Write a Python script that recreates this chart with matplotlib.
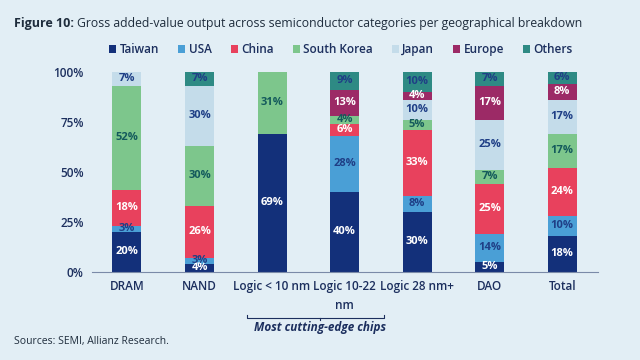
import matplotlib.pyplot as plt
import numpy as np

plt.rcParams['font.family'] = ['Open Sans', 'DejaVu Sans']

categories = ['DRAM', 'NAND', 'Logic < 10 nm', 'Logic 10-22\nnm', 'Logic 28 nm+', 'DAO', 'Total']
regions = ['Taiwan', 'USA', 'China', 'South Korea', 'Japan', 'Europe', 'Others']
taiwan = [20, 4, 69, 40, 30, 5, 18]
usa = [3, 3, 0, 28, 8, 14, 10]
china = [18, 26, 0, 6, 33, 25, 24]
south_korea = [52, 30, 31, 4, 5, 7, 17]
japan = [7, 30, 0, 0, 10, 25, 17]
europe = [0, 0, 0, 13, 4, 17, 8]
others = [0, 7, 0, 9, 10, 7, 6]

series = [taiwan, usa, china, south_korea, japan, europe, others]
colors = ['#13307a', '#4a9fd6', '#e8415d', '#7dc68c', '#c4dcea', '#9c2a66', '#2e8a84']
text_colors = ['white', '#1f3f86', 'white', '#145a5c', '#1f3f86', 'white', '#1f3f86']
bg = '#e2eef5'
ink = '#1c2f5e'

fig = plt.figure(figsize=(6.4, 3.6), dpi=100, facecolor=bg)
ax = fig.add_axes([0.144, 0.245, 0.79, 0.555], facecolor=bg)

x = np.arange(len(categories))
bottom = np.zeros(len(categories))
for name, vals, c, tc in zip(regions, series, colors, text_colors):
    vals = np.array(vals, dtype=float)
    ax.bar(x, vals, 0.4, bottom=bottom, color=c, label=name, zorder=2)
    for xi, v, b in zip(x, vals, bottom):
        if v > 0:
            ax.text(xi, b + v / 2, f'{int(v)}%', ha='center', va='center',
                    color=tc, fontsize=8, fontweight='bold', zorder=3)
    bottom += vals

ax.set_xlim(-0.48, 6.49)
ax.set_ylim(0, 100)
ax.set_yticks([0, 25, 50, 75, 100])
ax.set_yticklabels(['0%', '25%', '50%', '75%', '100%'])
ax.set_xticks(x)
ax.set_xticklabels(categories, linespacing=1.6)
ax.tick_params(length=0, colors=ink, labelsize=8.5, pad=6)
for lbl in ax.get_xticklabels() + ax.get_yticklabels():
    lbl.set_fontweight('semibold')
for s in ['top', 'right', 'left']:
    ax.spines[s].set_visible(False)
ax.spines['bottom'].set_color('#7a8aa8')
ax.spines['bottom'].set_zorder(4)

leg = fig.legend(loc='center', bbox_to_anchor=(0.533, 0.862), ncol=7, frameon=False,
                 handlelength=0.6, handleheight=0.6, handletextpad=0.3, columnspacing=1.6,
                 fontsize=8.5)
for t in leg.get_texts():
    t.set_color(ink)
    t.set_fontweight('semibold')

fig.text(0.022, 0.925, 'Figure 10:', fontsize=9, fontweight='bold', color='#1f2d3d')
fig.text(0.12, 0.925, 'Gross added-value output across semiconductor categories per geographical breakdown',
         fontsize=8.8, color='#1f2d3d')

# bracket under the cutting-edge logic categories
x0, x1, xm = 1.65, 3.55, 2.66
yb = -23
ax.plot([x0, x0, x1, x1], [yb + 1.2, yb, yb, yb + 1.2], color=ink, lw=0.8, clip_on=False)
ax.plot([xm, xm], [yb, yb - 1.2], color=ink, lw=0.8, clip_on=False)
ax.text(2.66, -27.8, 'Most cutting-edge chips', ha='center', va='center', fontsize=8.5,
        fontweight='bold', fontstyle='italic', color=ink)

fig.text(0.022, 0.045, 'Sources: SEMI, Allianz Research.', fontsize=7.5, color='#1f2d3d')

fig.savefig('out.png', dpi=100, facecolor=bg)
